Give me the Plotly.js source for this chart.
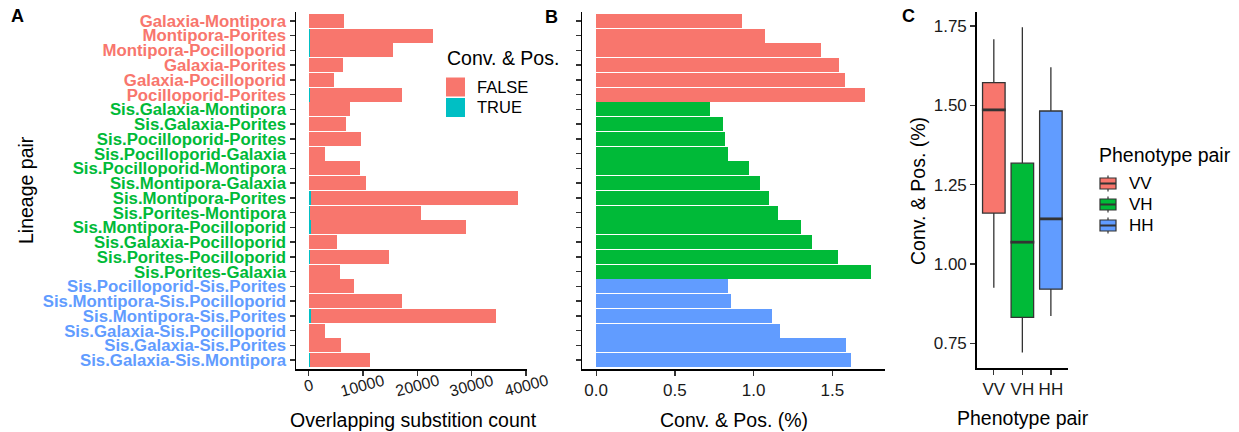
<!DOCTYPE html>
<html>
<head>
<meta charset="utf-8">
<script src="https://cdn.plot.ly/plotly-3.0.1.min.js"></script>
<style>html,body{margin:0;padding:0;background:#fff;} #chart{width:1239px;height:432px;}</style>
</head>
<body>
<div id="chart"></div>
<script>
// ---------------- data ----------------
const lineagePairs = [
  "Galaxia-Montipora", "Montipora-Porites", "Montipora-Pocilloporid", "Galaxia-Porites",
  "Galaxia-Pocilloporid", "Pocilloporid-Porites",
  "Sis.Galaxia-Montipora", "Sis.Galaxia-Porites", "Sis.Pocilloporid-Porites", "Sis.Pocilloporid-Galaxia",
  "Sis.Pocilloporid-Montipora", "Sis.Montipora-Galaxia", "Sis.Montipora-Porites", "Sis.Porites-Montipora",
  "Sis.Montipora-Pocilloporid", "Sis.Galaxia-Pocilloporid", "Sis.Porites-Pocilloporid", "Sis.Porites-Galaxia",
  "Sis.Pocilloporid-Sis.Porites", "Sis.Montipora-Sis.Pocilloporid", "Sis.Montipora-Sis.Porites",
  "Sis.Galaxia-Sis.Pocilloporid", "Sis.Galaxia-Sis.Porites", "Sis.Galaxia-Sis.Montipora"
];
const phenotypePair = [
  "VV","VV","VV","VV","VV","VV",
  "VH","VH","VH","VH","VH","VH","VH","VH","VH","VH","VH","VH",
  "HH","HH","HH","HH","HH","HH"
];
// overlapping substitution counts, split by "Conv. & Pos."
const countTrue = [60, 245, 221, 97, 73, 293, 55, 55, 78, 25, 91, 109, 423, 238, 376, 71, 227, 100, 69, 147, 385, 34, 94, 182];
const countFalse = [6390, 22615, 15259, 6173, 4537, 16847, 7505, 6765, 9512, 2925, 9309, 10401, 38107, 20412, 28564, 5089, 14523, 5610, 8221, 16993, 34085, 2916, 5806, 11058];
// Conv. & Pos. (%)
const convPosPct = [0.925, 1.071, 1.428, 1.543, 1.581, 1.708,
  0.721, 0.804, 0.817, 0.836, 0.970, 1.040, 1.097, 1.154, 1.300, 1.370, 1.536, 1.746,
  0.836, 0.855, 1.117, 1.167, 1.587, 1.620];
const phenotypeLevels = ["VV", "VH", "HH"];
const convPosLevels = ["FALSE", "TRUE"];
const countTicks = [0, 10000, 20000, 30000, 40000];
const countTickLabels = ["0", "10000", "20000", "30000", "40000"];
const pctTicks = [0, 0.5, 1.0, 1.5];
const pctTickLabels = ["0.0", "0.5", "1.0", "1.5"];
const boxTicks = [0.75, 1.00, 1.25, 1.50, 1.75];
const boxTickLabels = ["0.75", "1.00", "1.25", "1.50", "1.75"];

// ---------------- styles ----------------
const W = 1239, H = 432;
const FONT = "Liberation Sans, Arial, Helvetica, sans-serif";
const phenoColor = {VV: "#F8766D", VH: "#00BA38", HH: "#619CFF"};
const convColor = {FALSE: "#F8766D", TRUE: "#00BFC4"};
const px = v => v / W;
const py = v => 1 - v / H;

const rowDomain = [py(369), py(12)];
const catRange = [lineagePairs.length - 0.4, -0.6];

const tickText = lineagePairs.map((p, i) =>
  '<span style="color:' + phenoColor[phenotypePair[i]] + '"><b>' + p + '</b></span>');

// type-7 quantiles (as in R / ggplot2 stat_boxplot)
function quant(sorted, p) {
  const h = (sorted.length - 1) * p, lo = Math.floor(h);
  const hi = Math.min(lo + 1, sorted.length - 1);
  return sorted[lo] + (h - lo) * (sorted[hi] - sorted[lo]);
}
const boxStats = phenotypeLevels.map(lv => {
  const v = convPosPct.filter((d, i) => phenotypePair[i] === lv).sort((a, b) => a - b);
  const q1 = quant(v, 0.25), med = quant(v, 0.5), q3 = quant(v, 0.75), iqr = q3 - q1;
  const lf = Math.min(...v.filter(d => d >= q1 - 1.5 * iqr));
  const uf = Math.max(...v.filter(d => d <= q3 + 1.5 * iqr));
  return {q1, med, q3, lf, uf};
});

const traces = [];
traces.push({
  type: "bar", orientation: "h", name: "TRUE", y: lineagePairs, x: countTrue,
  marker: {color: convColor.TRUE, line: {width: 0}}, width: 0.94,
  xaxis: "x", yaxis: "y", showlegend: false
});
traces.push({
  type: "bar", orientation: "h", name: "FALSE", y: lineagePairs, x: countFalse,
  marker: {color: convColor.FALSE, line: {width: 0}}, width: 0.94,
  xaxis: "x", yaxis: "y", showlegend: false
});
traces.push({
  type: "bar", orientation: "h", y: lineagePairs, x: convPosPct,
  marker: {color: phenotypePair.map(p => phenoColor[p]), line: {width: 0}}, width: 0.94,
  xaxis: "x2", yaxis: "y2", showlegend: false, base: 0, offsetgroup: "b"
});
phenotypeLevels.forEach((lv, k) => {
  const s = boxStats[k];
  traces.push({
    type: "box", name: lv, x: [lv], q1: [s.q1], median: [s.med], q3: [s.q3],
    lowerfence: [s.lf], upperfence: [s.uf],
    fillcolor: phenoColor[lv], line: {color: "#333333", width: 1.3},
    boxpoints: false, whiskerwidth: 0, width: 0.79,
    xaxis: "x3", yaxis: "y3", showlegend: false
  });
});
// thicker median bars (ggplot style)
traces.push({
  type: "scatter", mode: "markers", x: phenotypeLevels, y: boxStats.map(s => s.med),
  marker: {symbol: "line-ew", size: 17, line: {color: "#333333", width: 2.8}},
  xaxis: "x3", yaxis: "y3", showlegend: false, cliponaxis: false
});

const axisBase = {
  showline: true, linecolor: "#000", linewidth: 1.5, ticks: "outside", ticklen: 5,
  tickwidth: 1.3, tickcolor: "#333", showgrid: false, zeroline: false,
  tickfont: {family: FONT, size: 17, color: "#1a1a1a"}
};

const annotations = [];
const shapes = [];
const ann = (text, x, y, size, opts) => annotations.push(Object.assign({
  text: text, x: x, y: y, xref: "paper", yref: "paper", showarrow: false,
  xanchor: "center", yanchor: "middle", font: {family: FONT, size: size, color: "#000"}
}, opts || {}));

countTicks.forEach((v, i) => annotations.push({
  text: countTickLabels[i], x: v, xref: "x", y: py(385), yref: "paper", showarrow: false,
  textangle: -15, xanchor: "center", yanchor: "middle",
  font: {family: FONT, size: 16, color: "#1a1a1a"}
}));
ann("Lineage pair", px(26), py(190), 19.5, {textangle: -90});
ann("Overlapping substition count", px(413), py(420), 19.5);
ann("Conv. &amp; Pos. (%)", px(733.5), py(420), 19.5);
ann("Conv. &amp; Pos. (%)", px(918), py(191), 19.5, {textangle: -90});
ann("Phenotype pair", px(1022.7), py(418), 19.5);
ann("<b>A</b>", px(17), py(16.5), 18);
ann("<b>B</b>", px(551), py(17), 18);
ann("<b>C</b>", px(908), py(16), 18);

// ---- legend: Conv. & Pos. (panel A) ----
ann("Conv. &amp; Pos.", px(445), py(58), 19.5, {xanchor: "left"});
convPosLevels.forEach((lv, k) => {
  const cy = 87 + k * 20.5;
  shapes.push({type: "rect", xref: "paper", yref: "paper", x0: px(446), x1: px(465),
    y0: py(cy - 9.5), y1: py(cy + 9.5), fillcolor: convColor[lv], line: {width: 0}});
  ann(lv, px(475), py(cy), 16.5, {xanchor: "left"});
});
// ---- legend: Phenotype pair (panel C) ----
ann("Phenotype pair", px(1097), py(155), 19.5, {xanchor: "left"});
phenotypeLevels.forEach((lv, k) => {
  const cy = 183.5 + k * 21;
  shapes.push({type: "line", xref: "paper", yref: "paper", x0: px(1108), x1: px(1108),
    y0: py(cy - 8), y1: py(cy + 8), line: {color: "#333333", width: 1.2}});
  shapes.push({type: "rect", xref: "paper", yref: "paper", x0: px(1100), x1: px(1116),
    y0: py(cy - 5.5), y1: py(cy + 5.5), fillcolor: phenoColor[lv], line: {color: "#333333", width: 1.2}});
  shapes.push({type: "line", xref: "paper", yref: "paper", x0: px(1100), x1: px(1116),
    y0: py(cy), y1: py(cy), line: {color: "#333333", width: 2}});
  ann(lv, px(1127), py(cy), 17, {xanchor: "left"});
});

const layout = {
  width: W, height: H, margin: {l: 0, r: 0, t: 0, b: 0},
  paper_bgcolor: "#fff", plot_bgcolor: "rgba(0,0,0,0)",
  font: {family: FONT, color: "#000"},
  barmode: "stack", boxmode: "overlay", bargap: 0, showlegend: false,
  xaxis: Object.assign({}, axisBase, {
    domain: [px(296), px(527.3)], range: [-2300, 40240], anchor: "y",
    tickvals: countTicks, showticklabels: false
  }),
  yaxis: Object.assign({}, axisBase, {
    domain: rowDomain, type: "category", categoryorder: "array", categoryarray: lineagePairs,
    range: catRange, anchor: "x", tickvals: lineagePairs, ticktext: tickText,
    tickfont: {family: FONT, size: 16.8}
  }),
  xaxis2: Object.assign({}, axisBase, {
    domain: [px(582), px(885)], range: [-0.09, 1.835], anchor: "y2",
    tickvals: pctTicks, ticktext: pctTickLabels
  }),
  yaxis2: Object.assign({}, axisBase, {
    domain: rowDomain, type: "category", categoryorder: "array", categoryarray: lineagePairs,
    range: catRange, anchor: "x2", tickvals: lineagePairs, showticklabels: false
  }),
  xaxis3: Object.assign({}, axisBase, {
    domain: [px(976.7), px(1068)], type: "category", categoryorder: "array",
    categoryarray: phenotypeLevels, range: [-0.6, 2.6], anchor: "y3"
  }),
  yaxis3: Object.assign({}, axisBase, {
    domain: [py(368.3), py(12)], range: [0.671, 1.794], anchor: "x3",
    tickvals: boxTicks, ticktext: boxTickLabels
  }),
  annotations: annotations,
  shapes: shapes
};

Plotly.newPlot("chart", traces, layout, {staticPlot: true, displayModeBar: false});
</script>
</body>
</html>
